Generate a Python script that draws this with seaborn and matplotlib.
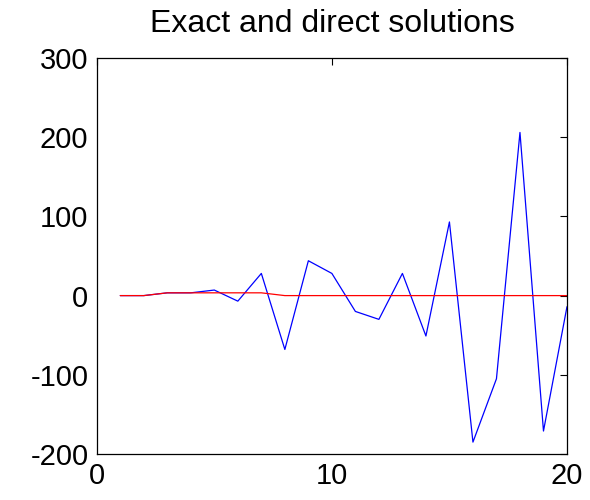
import numpy as np
import pandas as pd
import matplotlib
matplotlib.use("Agg")
import matplotlib.pyplot as plt
import seaborn as sns

# valeurs
n = list(range(1, 21))
direct = [0, 0, 3.5, 3.5, 7, -7, 28, -68, 44, 28,
          -20, -30, 28, -51, 93, -185, -105, 206, -171, -14]
exact = [0, 0, 3.5, 3.5, 3.5, 3.5, 3.5, 0, 0, 0,
         0, 0, 0, 0, 0, 0, 0, 0, 0, 0]

df = pd.DataFrame({"n": n, "direct": direct, "exact": exact})

sns.set_style("white")
plt.rcParams['font.family'] = ['Liberation Sans', 'DejaVu Sans']
plt.rcParams['axes.unicode_minus'] = False
plt.rcParams['text.color'] = 'black'
plt.rcParams['xtick.labelcolor'] = 'black'
plt.rcParams['ytick.labelcolor'] = 'black'

fig = plt.figure(figsize=(5.9, 5.0), dpi=100)
ax = fig.add_axes([0.164, 0.092, 0.797, 0.792])

sns.lineplot(data=df, x="n", y="direct", color="blue", linewidth=0.9, ax=ax)
sns.lineplot(data=df, x="n", y="exact", color="red", linewidth=0.9, ax=ax)

ax.set_xlim(0, 20)
ax.set_ylim(-200, 300)
ax.set_xticks([0, 10, 20])
ax.set_yticks([-200, -100, 0, 100, 200, 300])
ax.set_xlabel("")
ax.set_ylabel("")
ax.tick_params(direction="in", length=5, width=0.8, labelsize=21,
               top=True, right=True, color="black", labelcolor="black", pad=6)
for s in ax.spines.values():
    s.set_color("black")
    s.set_linewidth(0.9)
ax.set_title("Exact and direct solutions", fontsize=23, color="black", pad=19)

fig.savefig("out.png", dpi=100)
